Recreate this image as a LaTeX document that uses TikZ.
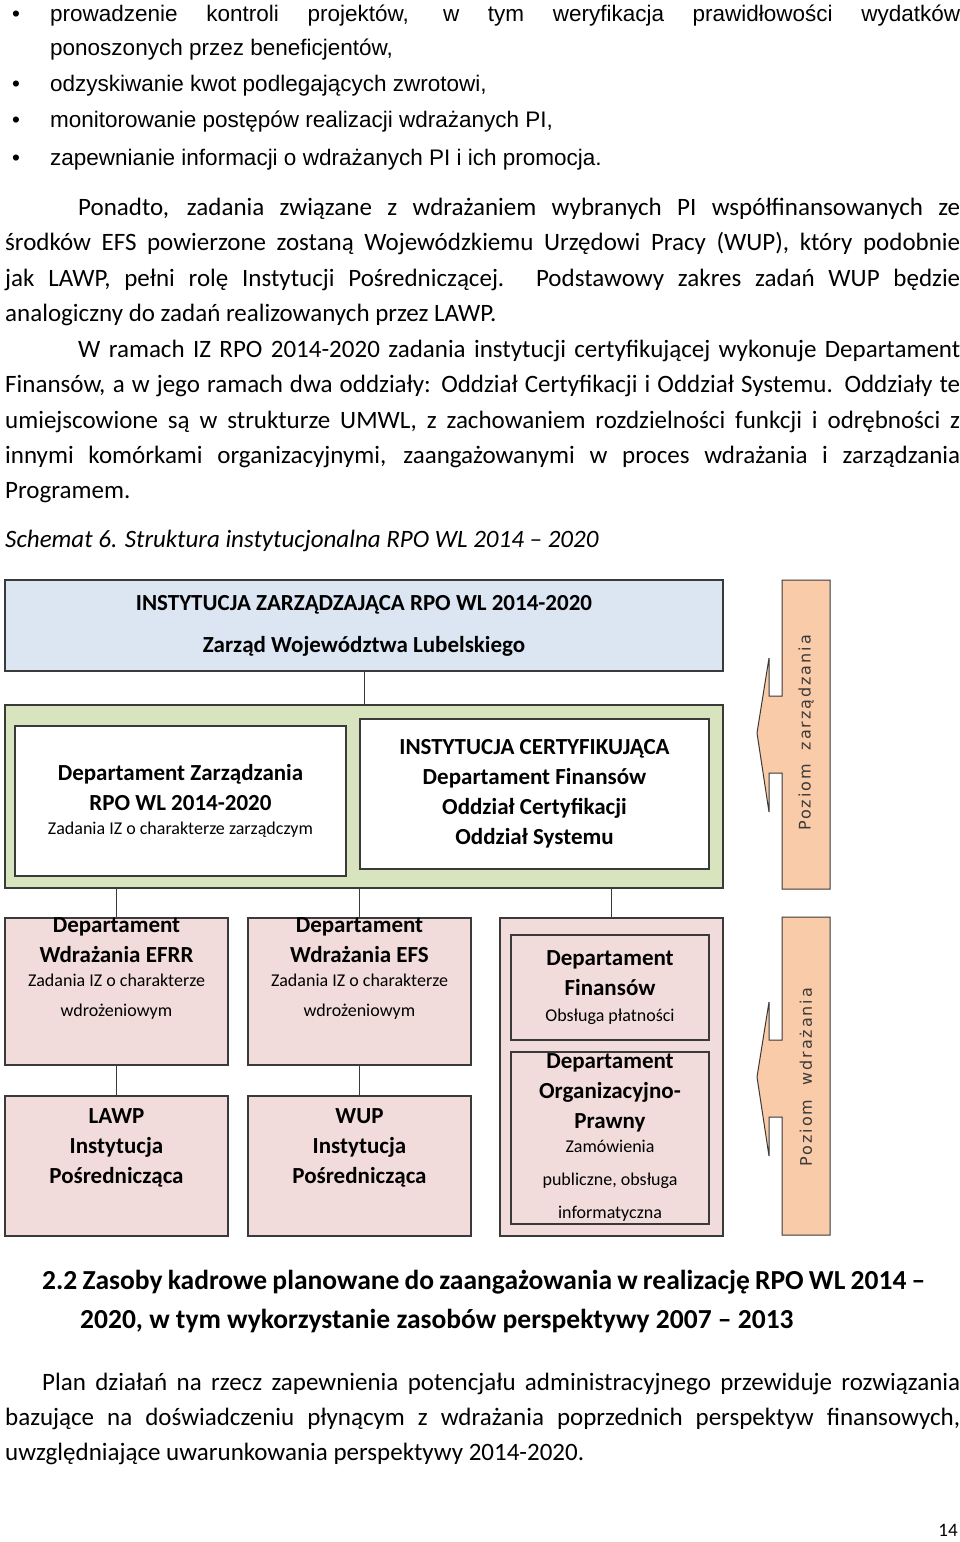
\documentclass[tikz,border=0pt]{standalone}
\usepackage{fontspec}
\setmainfont{Carlito}
\newfontfamily\arial{Liberation Sans}
\newfontfamily\vfont[LetterSpace=12]{DejaVu Sans}
\newcommand\JL[4]{\node[anchor=base west,inner sep=0] at (#1,#2) {\parbox[b]{#3pt}{\parfillskip=0pt\relax #4\par}};}
\newcommand\TL[3]{\node[anchor=base west,inner sep=0] at (#1,#2) {#3};}
\definecolor{bord}{HTML}{3A3A3A}
\definecolor{cblue}{HTML}{DCE6F2}
\definecolor{cgreen}{HTML}{D7E4BD}
\definecolor{cpink}{HTML}{F2DCDB}
\definecolor{cpeach}{HTML}{F9CBA8}
\tikzset{
 box/.style={draw=bord,line width=1.6pt,inner sep=0,align=center},
 tb/.style={font=\bfseries\fontsize{23}{30}\selectfont},
}
\newcommand\sm{\mdseries\fontsize{18}{20}\selectfont}
\begin{document}
\begin{tikzpicture}[x=1pt,y=-1pt]
\useasboundingbox[fill=white] (0,0) rectangle (960,1542);
% bullets
\begin{scope}[font=\arial\fontsize{22.5}{24}\selectfont]
\foreach \y in {21,91,127,165} \node[anchor=base,inner sep=0] at (16,\y) {\textbullet};
\JL{50}{21}{910}{prowadzenie kontroli projektów, w tym weryfikacja prawidłowości wydatków}
\TL{50}{55}{ponoszonych przez beneficjentów,}
\TL{50}{91}{odzyskiwanie kwot podlegających zwrotowi,}
\TL{50}{127}{monitorowanie postępów realizacji wdrażanych PI,}
\TL{50}{165}{zapewnianie informacji o wdrażanych PI i ich promocja.}
\end{scope}
\begin{scope}[font=\fontsize{25}{24}\selectfont]
\JL{78}{215}{882}{Ponadto, zadania związane z wdrażaniem wybranych PI współfinansowanych ze}
\JL{5}{250}{955}{środków EFS powierzone zostaną Wojewódzkiemu Urzędowi Pracy (WUP), który podobnie}
\JL{5}{286}{955}{jak LAWP, pełni rolę Instytucji Pośredniczącej. Podstawowy zakres zadań WUP będzie}
\TL{5}{321}{analogiczny do zadań realizowanych przez LAWP.}
\JL{78}{357}{882}{W ramach IZ RPO 2014-2020 zadania instytucji certyfikującej wykonuje Departament}
\JL{5}{392}{955}{Finansów, a w jego ramach dwa oddziały: Oddział Certyfikacji i Oddział Systemu. Oddziały te}
\JL{5}{428}{955}{umiejscowione są w strukturze UMWL, z zachowaniem rozdzielności funkcji i odrębności z}
\JL{5}{463}{955}{innymi komórkami organizacyjnymi, zaangażowanymi w proces wdrażania i zarządzania}
\TL{5}{498}{Programem.}
\TL{5}{547}{\itshape Schemat 6. Struktura instytucjonalna RPO WL 2014 – 2020}
\JL{42}{1390}{918}{Plan działań na rzecz zapewnienia potencjału administracyjnego przewiduje rozwiązania}
\JL{5}{1425}{955}{bazujące na doświadczeniu płynącym z wdrażania poprzednich perspektyw finansowych,}
\TL{5}{1460}{uwzględniające uwarunkowania perspektywy 2014-2020.}
\end{scope}
\begin{scope}[font=\bfseries\fontsize{27.5}{28}\selectfont]
\JL{42}{1289}{883}{2.2 Zasoby kadrowe planowane do zaangażowania w realizację RPO WL 2014 –}
\TL{80}{1328}{2020, w tym wykorzystanie zasobów perspektywy 2007 – 2013}
\end{scope}
\node[anchor=base,inner sep=0,font=\fontsize{19}{20}\selectfont] (pg) at (948,1536) {14};
% diagram
\node[box,fill=cblue,tb,minimum width=718pt,minimum height=91pt] (iz) at (364,625.5)
 {INSTYTUCJA ZARZĄDZAJĄCA RPO WL 2014-2020\\[12pt]Zarząd Województwa Lubelskiego};
\node[box,fill=cgreen,minimum width=718pt,minimum height=183pt] (grp) at (364,796.5) {};
\node[box,fill=white,tb,minimum width=331pt,minimum height=150pt] (dz) at (180.5,801)
 {Departament Zarządzania\\RPO WL 2014-2020\\[-6pt]\sm Zadania IZ o charakterze zarządczym};
\node[box,fill=white,tb,minimum width=349pt,minimum height=150pt] (ic) at (534.5,794)
 {INSTYTUCJA CERTYFIKUJĄCA\\Departament Finansów\\Oddział Certyfikacji\\Oddział Systemu};
\node[box,fill=cpink,tb,minimum width=223pt,minimum height=141pt,anchor=north] (efrr) at (116.5,917)
 {Departament\\Wdrażania EFRR\\[-6pt]\sm Zadania IZ o charakterze\\\sm wdrożeniowym\\[18pt]};
\node[box,fill=cpink,tb,minimum width=223pt,minimum height=141pt,anchor=north] (efs) at (359.5,917)
 {Departament\\Wdrażania EFS\\[-6pt]\sm Zadania IZ o charakterze\\\sm wdrożeniowym\\[18pt]};
\node[box,fill=cpink,minimum width=223pt,minimum height=318pt,anchor=north] (c3) at (611.5,917) {};
\node[box,fill=cpink,tb,minimum width=198pt,minimum height=105pt,anchor=north] (fin) at (610,934)
 {Departament\\Finansów\\[-4pt]\sm Obsługa płatności};
\node[box,fill=cpink,tb,minimum width=198pt,minimum height=172pt,anchor=north] (org) at (610,1051)
 {Departament\\Organizacyjno-\\Prawny\\[-6pt]\sm Zamówienia\\[3pt]\sm publiczne, obsługa\\[3pt]\sm informatyczna};
\node[box,fill=cpink,tb,minimum width=223pt,minimum height=140pt,anchor=north] (lawp) at (116.5,1095)
 {LAWP\\Instytucja\\Pośrednicząca\\[10pt]};
\node[box,fill=cpink,tb,minimum width=223pt,minimum height=140pt,anchor=north] (wup) at (359.5,1095)
 {WUP\\Instytucja\\Pośrednicząca\\[10pt]};
\begin{scope}[draw=bord,line width=1pt]
\draw (iz.south) -- (grp.north);
\draw (grp.south -| efrr.north) -- (efrr.north);
\draw (grp.south -| efs.north) -- (efs.north);
\draw (grp.south -| c3.north) -- (c3.north);
\draw (efrr.south) -- (lawp.north);
\draw (efs.south) -- (wup.north);
\end{scope}
% arrows
\foreach \t/\c/\b/\txt in {580/733/889/{Poziom\ \ zarządzania},917/1077/1235/{Poziom\ \ wdrażania}}{
 \filldraw[fill=cpeach,draw=bord,line width=1pt] (830,\t) -- (782,\t) -- (782,\c-37) -- (769,\c-37) -- (769,\c-75)
  -- (757,\c) -- (769,\c+79) -- (769,\c+40) -- (782,\c+40) -- (782,\b) -- (830,\b) -- cycle;
 \node[rotate=90,inner sep=0,font=\vfont\fontsize{16}{18}\selectfont,color=bord] at (806,\c) {\txt};
}
\end{tikzpicture}
\end{document}
